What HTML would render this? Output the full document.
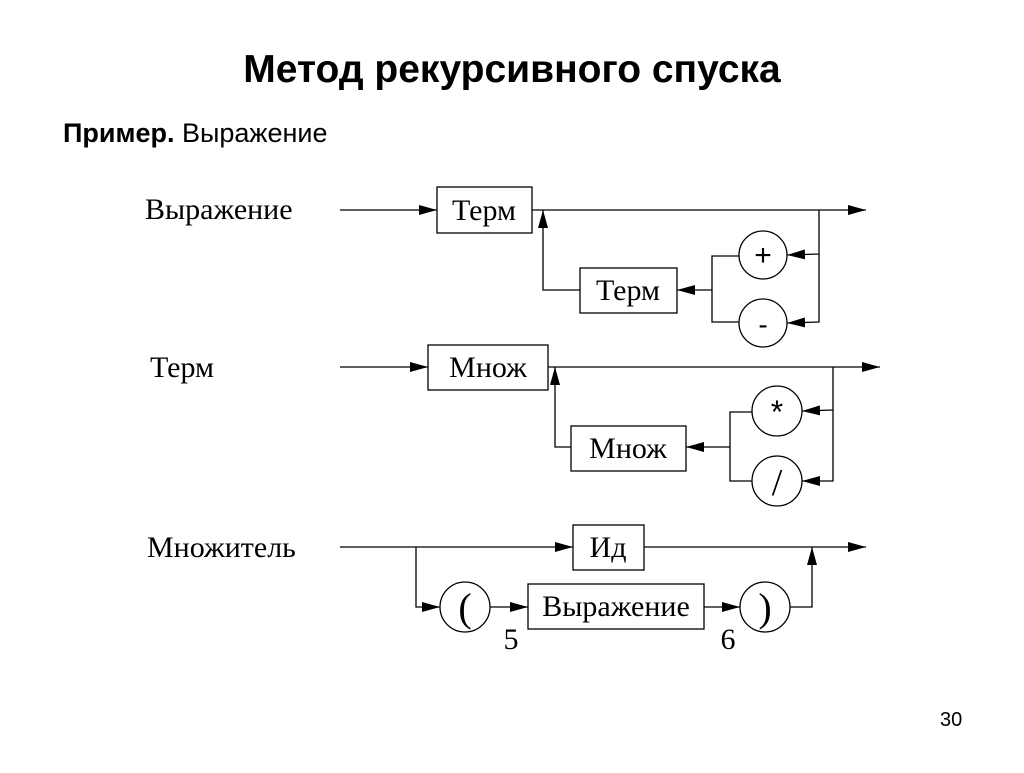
<!DOCTYPE html>
<html><head><meta charset="utf-8"><style>
body{margin:0;background:#fff;width:1024px;height:768px;overflow:hidden}
</style></head><body>
<svg width="1024" height="768" xmlns="http://www.w3.org/2000/svg">
<defs><marker id="a" markerWidth="18" markerHeight="10" refX="18" refY="5" orient="auto" markerUnits="userSpaceOnUse"><path d="M0,0 L18,5 L0,10 z" fill="#000"/></marker></defs>
<g font-family="Liberation Sans, sans-serif">
<text x="512" y="82" font-size="39" font-weight="bold" text-anchor="middle">Метод рекурсивного спуска</text>
<text x="63" y="142" font-size="27"><tspan font-weight="bold">Пример.</tspan> Выражение</text>
<text x="940" y="726" font-size="20">30</text>
</g>
<g stroke="#000" stroke-width="1.3" fill="none">
<line x1="340" y1="210" x2="437" y2="210" marker-end="url(#a)"/>
<rect x="437" y="187" width="95" height="46"/>
<line x1="532" y1="210" x2="866" y2="210" marker-end="url(#a)"/>
<polyline points="580,290 543,290 543,210" marker-end="url(#a)"/>
<rect x="580" y="268" width="97" height="45"/>
<line x1="712" y1="290" x2="677" y2="290" marker-end="url(#a)"/>
<polyline points="739,256 712,256 712,322 739,322"/>
<circle cx="763" cy="255" r="24"/><circle cx="763" cy="323" r="24"/>
<polyline points="819,210 819,254 787,255" marker-end="url(#a)"/>
<polyline points="819,254 819,322 787,323" marker-end="url(#a)"/>
<line x1="340" y1="367" x2="428" y2="367" marker-end="url(#a)"/>
<rect x="428" y="345" width="120" height="45"/>
<line x1="548" y1="367" x2="880" y2="367" marker-end="url(#a)"/>
<polyline points="571,447 555,447 555,367" marker-end="url(#a)"/>
<rect x="571" y="426" width="115" height="45"/>
<line x1="730" y1="447" x2="686" y2="447" marker-end="url(#a)"/>
<polyline points="752,412 730,412 730,481 752,481"/>
<circle cx="777" cy="411" r="25"/><circle cx="777" cy="481" r="25"/>
<polyline points="833,367 833,410 802,411" marker-end="url(#a)"/>
<polyline points="833,410 833,481 802,481" marker-end="url(#a)"/>
<line x1="340" y1="547" x2="573" y2="547" marker-end="url(#a)"/>
<rect x="573" y="525" width="71" height="45"/>
<line x1="644" y1="547" x2="866" y2="547" marker-end="url(#a)"/>
<polyline points="416,547 416,607 440,607" marker-end="url(#a)"/>
<circle cx="465" cy="607" r="25"/>
<line x1="490" y1="607" x2="528" y2="607" marker-end="url(#a)"/>
<rect x="528" y="584" width="176" height="45"/>
<line x1="704" y1="607" x2="740" y2="607" marker-end="url(#a)"/>
<circle cx="765" cy="607" r="25"/>
<polyline points="790,607 812,607 812,547" marker-end="url(#a)"/>
</g>
<g font-family="Liberation Serif, serif" font-size="30" fill="#000">
<text x="145" y="219">Выражение</text>
<text x="150" y="377">Терм</text>
<text x="147" y="557">Множитель</text>
<text x="484" y="220" text-anchor="middle">Терм</text>
<text x="628" y="300" text-anchor="middle">Терм</text>
<text x="488" y="377" text-anchor="middle">Множ</text>
<text x="628" y="458" text-anchor="middle">Множ</text>
<text x="608" y="557" text-anchor="middle">Ид</text>
<text x="616" y="616" text-anchor="middle">Выражение</text>
<text x="763" y="265" text-anchor="middle" font-family="Liberation Sans, sans-serif" font-size="30">+</text>
<text x="763" y="334" text-anchor="middle" font-family="Liberation Sans, sans-serif" font-size="28">-</text>
<text x="777" y="423" text-anchor="middle" font-family="Liberation Sans, sans-serif" font-size="32">*</text>
<text x="777" y="495" text-anchor="middle" font-size="38">/</text>
<text x="465" y="621" text-anchor="middle" font-size="40">(</text>
<text x="765" y="621" text-anchor="middle" font-size="40">)</text>
<text x="511" y="649" text-anchor="middle" font-size="30">5</text>
<text x="728" y="649" text-anchor="middle" font-size="30">6</text>
</g>
</svg>
</body></html>
